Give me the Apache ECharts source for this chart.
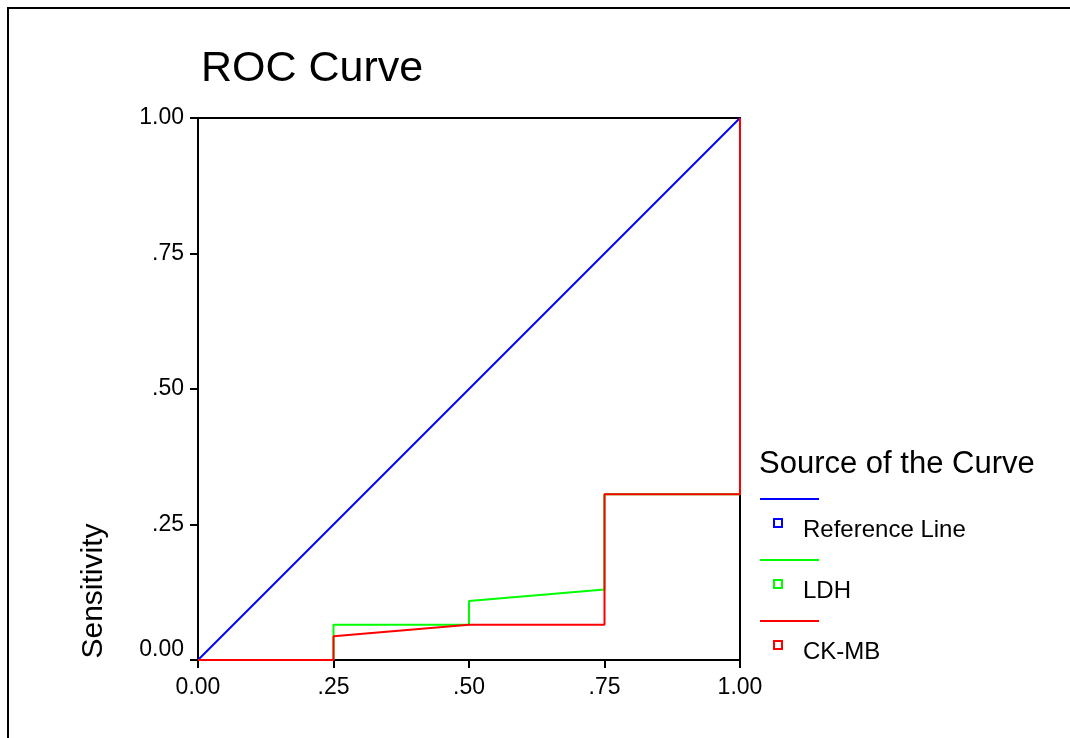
<!DOCTYPE html>
<html>
<head>
<meta charset="utf-8">
<script src="https://cdn.jsdelivr.net/npm/echarts@6/dist/echarts.min.js"></script>
<style>
  html, body { margin: 0; padding: 0; background: #fff; }
  #chart { width: 1070px; height: 738px; }
</style>
</head>
<body>
<div id="chart"></div>
<script>
const chartTitle = 'ROC Curve'
const yAxisTitle = 'Sensitivity'
const legendTitle = 'Source of the Curve'
const seriesNames = ['Reference Line', 'LDH', 'CK-MB']
const seriesColors = ['#0000ff', '#00ff00', '#ff0000']
const tickLabels = ['0.00', '.25', '.50', '.75', '1.00']

// [1 - specificity, sensitivity]
const referenceLine = [[0, 0], [1, 1]]
const ldhCurve = [
    [0, 0], [0.25, 0], [0.25, 0.065], [0.5, 0.065], [0.5, 0.109],
    [0.75, 0.130], [0.75, 0.306], [1, 0.306], [1, 1],
]
const ckmbCurve = [
    [0, 0], [0.25, 0], [0.25, 0.044], [0.5, 0.065], [0.75, 0.065],
    [0.75, 0.306], [1, 0.306], [1, 1],
]
const curves = [referenceLine, ldhCurve, ckmbCurve]

const FONT = '"Liberation Sans", Arial, sans-serif'
const chart = echarts.init(document.getElementById('chart'))

const tickFormatter = value => tickLabels[Math.round(value / 0.25)] ?? ''
// the lowest y label sits a little above its tick, as in the original
const yTickFormatter = value => value === 0 ? `{low|${tickFormatter(value)}}` : tickFormatter(value)

const legendGraphics = []
legendGraphics.push({
    type: 'text',
    x: 759,
    y: 464,
    style: {
        text: legendTitle,
        font: `31px ${FONT}`,
        fill: '#000',
        verticalAlign: 'middle',
    },
})
seriesNames.forEach((name, i) => {
    const baseY = 499 + i * 61
    legendGraphics.push({
        type: 'line',
        shape: { x1: 760, y1: baseY, x2: 819, y2: baseY },
        style: { stroke: seriesColors[i], lineWidth: 2 },
    })
    legendGraphics.push({
        type: 'rect',
        shape: { x: 774, y: baseY + 20, width: 8, height: 8 },
        style: { fill: 'none', stroke: seriesColors[i], lineWidth: 2 },
    })
    legendGraphics.push({
        type: 'text',
        x: 803,
        y: baseY + 31,
        style: {
            text: name,
            font: `24px ${FONT}`,
            fill: '#000',
            verticalAlign: 'middle',
        },
    })
})

const axisCommon = {
    type: 'value',
    min: 0,
    max: 1,
    interval: 0.25,
    axisLine: { show: true, onZero: false, lineStyle: { color: '#000', width: 2 } },
    axisTick: { show: true, length: 8, lineStyle: { color: '#000', width: 2 } },
    splitLine: { show: false },
}

chart.setOption({
    animation: false,
    title: {
        text: chartTitle,
        left: 196,
        top: 40,
        textStyle: {
            fontFamily: FONT,
            fontSize: 43,
            fontWeight: 'normal',
            color: '#000',
            lineHeight: 48,
        },
    },
    grid: {
        left: 198,
        top: 118,
        width: 542,
        height: 542,
        show: true,
        borderColor: '#000',
        borderWidth: 2,
        backgroundColor: 'transparent',
    },
    xAxis: {
        ...axisCommon,
        axisLabel: {
            color: '#000',
            fontFamily: FONT,
            fontSize: 23,
            margin: 16,
            formatter: tickFormatter,
        },
    },
    yAxis: {
        ...axisCommon,
        axisLabel: {
            color: '#000',
            fontFamily: FONT,
            fontSize: 23,
            margin: 14,
            formatter: yTickFormatter,
            rich: {
                low: {
                    fontFamily: FONT,
                    fontSize: 23,
                    color: '#000',
                    padding: [0, 0, 20, 0],
                },
            },
        },
    },
    graphic: [
        {
            type: 'rect',
            shape: { x: 8, y: 8, width: 1080, height: 760 },
            style: { fill: 'none', stroke: '#000', lineWidth: 2 },
            z: -1,
        },
        {
            type: 'text',
            x: 94,
            y: 591,
            rotation: Math.PI / 2,
            style: {
                text: yAxisTitle,
                font: `30px ${FONT}`,
                fill: '#000',
                align: 'center',
                verticalAlign: 'middle',
            },
        },
        ...legendGraphics,
    ],
    series: curves.map((data, i) => ({
        name: seriesNames[i],
        type: 'line',
        data,
        showSymbol: false,
        symbol: 'none',
        z: 3 + i,
        lineStyle: { color: seriesColors[i], width: 2 },
        itemStyle: { color: seriesColors[i] },
    })),
})
</script>
</body>
</html>
